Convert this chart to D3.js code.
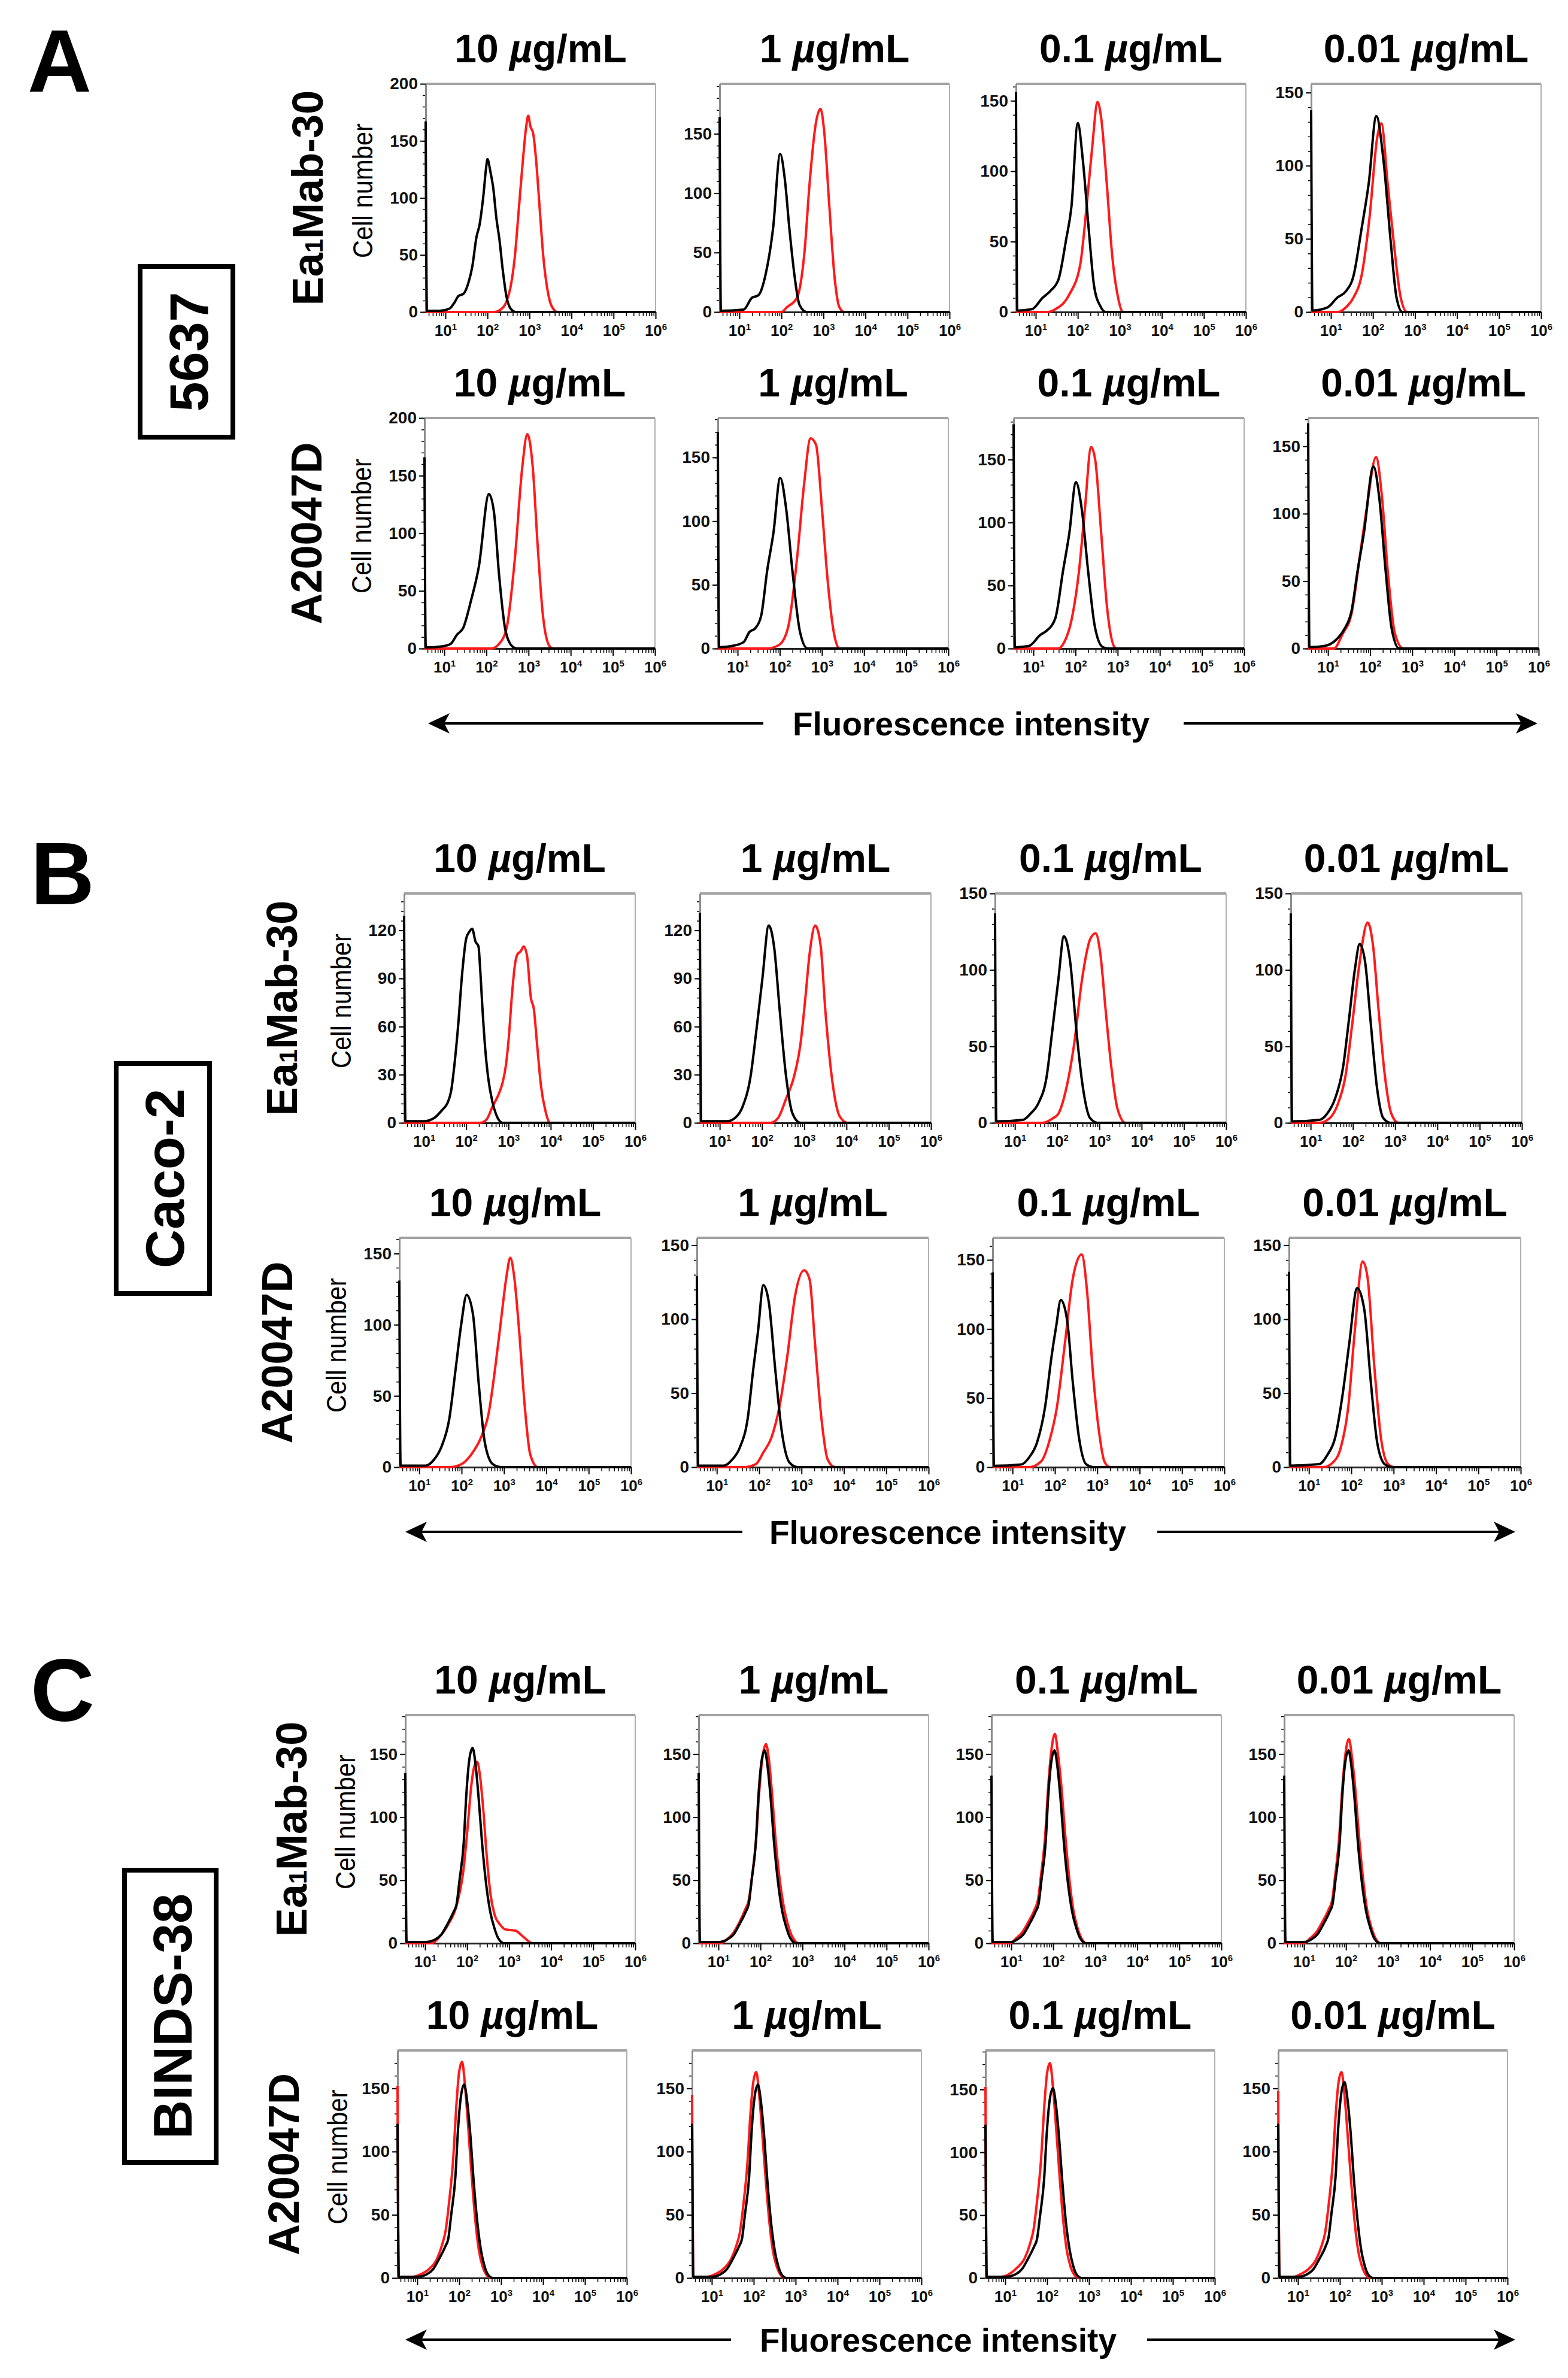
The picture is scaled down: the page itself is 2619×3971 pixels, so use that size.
<!DOCTYPE html>
<html>
<head>
<meta charset="utf-8">
<script src="https://cdn.jsdelivr.net/npm/d3@7"></script>
<style>
  body { margin: 0; background: #fff; }
  svg { display: block; }
  text { font-family: "Liberation Sans", Arial, Helvetica, sans-serif; }
</style>
</head>
<body>
<script>
// ---- labels ----
var panelLetters = ["A", "B", "C"];
var cellLines = ["5637", "Caco-2", "BINDS-38"];
var antibodies = ["Ea₁Mab-30", "A20047D"];
var concentrations = ["10", "1", "0.1", "0.01"];
var xTickExponents = [1, 2, 3, 4, 5, 6];

// ---- y axis max / major step, per panel [row][plot] ----
var yMaxA = [[200, 192, 162, 156], [200, 181, 183, 171]];
var yStepA = [[50, 50, 50, 50], [50, 50, 50, 50]];
var yMaxB = [[143, 143, 150, 150], [161, 155, 166, 155]];
var yStepB = [[30, 30, 50, 50], [50, 50, 50, 50]];
var yMaxC = [[181, 181, 181, 181], [180, 180, 181, 180]];
var yStepC = [[50, 50, 50, 50], [50, 50, 50, 50]];

// ---- histograms: [log10 intensity, cell number] ----
// black = control, red = antibody
var a1Black = [
  [[0.53,167],[0.56,1],[0.86,1],[1.1,3],[1.21,8],[1.31,14],[1.43,16],[1.55,26],[1.64,40],[1.74,66],[1.81,76],[1.9,101],[1.97,127],[2.0,134],[2.07,123],[2.14,108],[2.21,83],[2.29,62],[2.36,38],[2.45,14],[2.55,3],[2.67,0],[6,0]],
  [[0.53,164],[0.56,1],[1.1,2],[1.3,12],[1.45,14],[1.62,31],[1.8,70],[1.97,133],[2.08,112],[2.19,70],[2.31,31],[2.43,6],[2.6,0],[6,0]],
  [[0.53,156],[0.56,1],[0.91,2],[1.16,10],[1.35,15],[1.54,23],[1.72,51],[1.85,75],[2.0,134],[2.12,108],[2.26,59],[2.39,18],[2.54,4],[2.66,0],[6,0]],
  [[0.53,138],[0.56,1],[0.91,3],[1.16,10],[1.35,14],[1.54,25],[1.73,57],[1.9,88],[2.08,134],[2.25,104],[2.42,49],[2.56,10],[2.7,0],[6,0]]
];
var a1Red = [
  [[0.53,0],[2.17,0],[2.31,2],[2.46,10],[2.55,22],[2.65,48],[2.75,92],[2.85,136],[2.92,162],[2.97,172],[3.02,163],[3.09,156],[3.16,132],[3.24,92],[3.33,48],[3.43,19],[3.53,5],[3.67,0],[6,0]],
  [[0.53,0],[2.0,0],[2.13,4],[2.37,12],[2.55,51],[2.67,108],[2.82,159],[2.93,171],[3.02,151],[3.14,89],[3.26,31],[3.38,4],[3.5,0],[6,0]],
  [[0.53,0],[1.29,0],[1.47,2],[1.79,12],[2.06,34],[2.21,75],[2.34,116],[2.47,149],[2.56,137],[2.69,91],[2.81,43],[2.96,10],[3.08,0],[6,0]],
  [[0.53,0],[1.16,0],[1.35,3],[1.54,10],[1.73,25],[1.92,65],[2.1,119],[2.2,129],[2.35,88],[2.49,49],[2.66,10],[2.81,0],[6,0]]
];
var a2Black = [
  [[0.53,166],[0.56,1],[0.96,2],[1.15,4],[1.3,12],[1.45,18],[1.63,41],[1.82,71],[2.06,134],[2.18,118],[2.3,64],[2.45,16],[2.61,2],[2.73,0],[6,0]],
  [[0.53,170],[0.56,1],[0.86,2],[1.14,5],[1.28,13],[1.42,16],[1.56,26],[1.7,61],[1.85,91],[2.01,134],[2.15,110],[2.3,61],[2.48,13],[2.66,0],[6,0]],
  [[0.53,178],[0.56,1],[0.89,2],[1.17,11],[1.31,14],[1.52,24],[1.7,61],[1.85,91],[2.01,132],[2.15,110],[2.3,61],[2.46,17],[2.65,1],[2.79,0],[6,0]],
  [[0.53,167],[0.56,1],[0.93,2],[1.21,7],[1.38,14],[1.56,28],[1.7,57],[1.85,85],[2.08,135],[2.22,111],[2.37,57],[2.51,15],[2.69,0],[6,0]]
];
var a2Red = [
  [[0.53,0],[2.12,0],[2.3,4],[2.48,18],[2.67,76],[2.85,157],[2.97,186],[3.1,157],[3.22,87],[3.34,29],[3.5,2],[3.59,0],[6,0]],
  [[0.53,0],[1.7,0],[1.99,3],[2.2,17],[2.41,71],[2.58,130],[2.73,165],[2.86,160],[3.0,110],[3.14,52],[3.28,13],[3.42,0],[6,0]],
  [[0.53,0],[1.59,0],[1.73,5],[1.9,22],[2.08,61],[2.22,110],[2.37,160],[2.47,149],[2.61,91],[2.75,32],[2.93,1],[3.0,0],[6,0]],
  [[0.53,0],[1.14,0],[1.35,11],[1.56,26],[1.75,67],[1.92,104],[2.14,142],[2.28,113],[2.42,57],[2.59,11],[2.79,0],[6,0]]
];
var b1Black = [
  [[0.53,129],[0.56,1],[1.0,1],[1.24,3],[1.43,8],[1.55,12],[1.65,21],[1.72,36],[1.81,61],[1.9,92],[2.0,115],[2.07,119],[2.14,121],[2.22,113],[2.29,110],[2.33,96],[2.38,73],[2.45,46],[2.52,28],[2.62,13],[2.71,5],[2.86,0],[6,0]],
  [[0.53,131],[0.56,1],[1.17,1],[1.36,3],[1.54,10],[1.73,29],[1.86,56],[2.01,90],[2.16,123],[2.29,109],[2.42,70],[2.57,29],[2.72,6],[2.91,0],[6,0]],
  [[0.53,137],[0.56,1],[1.19,2],[1.37,6],[1.56,13],[1.75,30],[1.88,59],[2.03,94],[2.16,122],[2.31,105],[2.46,59],[2.61,23],[2.78,3],[2.96,0],[6,0]],
  [[0.53,137],[0.56,1],[1.21,2],[1.39,6],[1.58,16],[1.77,37],[1.9,66],[2.05,101],[2.16,117],[2.29,105],[2.42,66],[2.57,23],[2.72,3],[2.89,0],[6,0]]
];
var b1Red = [
  [[0.53,0],[2.33,0],[2.48,2],[2.62,10],[2.77,18],[2.86,25],[2.94,36],[3.01,54],[3.08,79],[3.15,98],[3.21,105],[3.29,107],[3.36,110],[3.44,104],[3.53,78],[3.6,71],[3.68,48],[3.77,23],[3.87,8],[3.99,0],[6,0]],
  [[0.53,0],[2.2,0],[2.38,3],[2.57,15],[2.76,29],[2.91,49],[3.02,76],[3.13,106],[3.26,123],[3.39,110],[3.5,70],[3.65,29],[3.84,4],[4.03,0],[6,0]],
  [[0.53,0],[1.65,0],[1.9,3],[2.03,6],[2.22,23],[2.4,51],[2.59,94],[2.78,120],[2.91,124],[3.02,111],[3.15,73],[3.28,37],[3.43,9],[3.62,0],[6,0]],
  [[0.53,0],[1.21,0],[1.45,3],[1.64,12],[1.82,30],[1.99,66],[2.14,101],[2.35,131],[2.48,115],[2.61,73],[2.76,30],[2.91,6],[3.08,0],[6,0]]
];
var b2Black = [
  [[0.53,131],[0.56,1],[1.15,1],[1.34,5],[1.52,14],[1.71,34],[1.86,69],[1.99,100],[2.12,121],[2.27,107],[2.4,60],[2.55,17],[2.74,2],[2.93,0],[6,0]],
  [[0.53,129],[0.56,1],[1.17,1],[1.36,5],[1.54,13],[1.73,33],[1.86,66],[1.97,91],[2.1,123],[2.23,111],[2.38,66],[2.53,25],[2.72,3],[2.91,0],[6,0]],
  [[0.53,141],[0.56,1],[1.21,2],[1.39,7],[1.58,18],[1.77,44],[1.92,80],[2.03,102],[2.14,121],[2.29,106],[2.42,62],[2.57,21],[2.74,2],[2.93,0],[6,0]],
  [[0.53,132],[0.56,1],[1.24,2],[1.43,8],[1.62,20],[1.8,50],[1.95,83],[2.14,121],[2.31,106],[2.46,58],[2.61,17],[2.79,2],[2.98,0],[6,0]]
];
var b2Red = [
  [[0.53,0],[1.71,0],[1.99,2],[2.23,9],[2.46,21],[2.64,38],[2.79,69],[2.93,103],[3.06,134],[3.15,147],[3.24,134],[3.36,95],[3.49,43],[3.62,9],[3.8,0],[6,0]],
  [[0.53,0],[1.64,0],[1.92,2],[2.1,10],[2.29,20],[2.48,41],[2.66,74],[2.85,116],[3.06,133],[3.19,127],[3.32,83],[3.47,33],[3.62,5],[3.79,0],[6,0]],
  [[0.53,0],[1.39,0],[1.67,4],[1.86,18],[2.05,44],[2.23,88],[2.42,136],[2.63,154],[2.76,127],[2.89,71],[3.04,26],[3.17,4],[3.3,0],[6,0]],
  [[0.53,0],[1.34,0],[1.56,3],[1.75,13],[1.93,41],[2.08,91],[2.27,139],[2.38,129],[2.55,66],[2.7,20],[2.87,2],[3.02,0],[6,0]]
];
var c1Black = [
  [[0.53,135],[0.56,1],[1.0,1],[1.24,3],[1.39,7],[1.53,15],[1.68,25],[1.75,31],[1.82,50],[1.92,80],[1.98,117],[2.05,145],[2.13,155],[2.2,142],[2.27,117],[2.36,78],[2.46,45],[2.55,25],[2.65,12],[2.74,4],[2.88,0],[6,0]],
  [[0.53,135],[0.56,1],[1.0,1],[1.21,3],[1.36,7],[1.5,15],[1.65,25],[1.72,31],[1.79,50],[1.89,80],[1.95,116],[2.02,143],[2.1,153],[2.17,140],[2.24,116],[2.33,77],[2.43,45],[2.52,25],[2.62,12],[2.71,4],[2.85,0],[6,0]],
  [[0.53,133],[0.56,1],[1.0,1],[1.14,3],[1.29,7],[1.43,15],[1.58,25],[1.65,31],[1.72,50],[1.82,80],[1.88,116],[1.95,143],[2.03,153],[2.1,140],[2.17,116],[2.26,77],[2.36,45],[2.45,25],[2.55,12],[2.64,4],[2.78,0],[6,0]],
  [[0.53,133],[0.56,1],[1.0,1],[1.17,3],[1.32,7],[1.46,15],[1.61,25],[1.68,31],[1.75,50],[1.85,80],[1.91,116],[1.98,143],[2.06,153],[2.13,140],[2.2,116],[2.29,77],[2.39,45],[2.48,25],[2.58,12],[2.67,4],[2.81,0],[6,0]]
];
var c1Red = [
  [[0.53,0],[1.15,0],[1.34,5],[1.55,15],[1.75,30],[1.92,60],[2.02,95],[2.1,125],[2.17,140],[2.24,144],[2.31,132],[2.38,108],[2.47,68],[2.56,38],[2.66,22],[2.78,15],[2.91,11],[3.15,10],[3.34,5],[3.56,0],[6,0]],
  [[0.53,0],[1.05,0],[1.2,3],[1.35,8],[1.49,16],[1.64,27],[1.72,34],[1.8,53],[1.9,84],[1.97,120],[2.05,148],[2.13,158],[2.2,146],[2.27,121],[2.36,82],[2.46,50],[2.56,28],[2.66,14],[2.76,5],[2.92,0],[6,0]],
  [[0.53,0],[0.98,0],[1.12,4],[1.27,9],[1.41,17],[1.56,27],[1.64,35],[1.71,54],[1.81,86],[1.88,124],[1.96,154],[2.04,166],[2.11,151],[2.19,126],[2.28,88],[2.38,52],[2.47,28],[2.57,13],[2.67,4],[2.8,0],[6,0]],
  [[0.53,0],[1.0,0],[1.15,4],[1.3,9],[1.44,17],[1.59,27],[1.67,34],[1.74,53],[1.84,85],[1.91,122],[1.99,151],[2.07,162],[2.14,148],[2.22,123],[2.31,85],[2.41,50],[2.5,27],[2.6,13],[2.7,4],[2.83,0],[6,0]]
];
var c2Black = [
  [[0.53,122],[0.56,1],[1.0,1],[1.23,3],[1.38,7],[1.52,15],[1.67,25],[1.74,31],[1.81,50],[1.91,80],[1.97,116],[2.04,143],[2.12,153],[2.19,140],[2.26,116],[2.35,75],[2.44,42],[2.52,22],[2.6,10],[2.68,3],[2.8,0],[6,0]],
  [[0.53,122],[0.56,1],[1.0,1],[1.21,3],[1.36,7],[1.5,15],[1.65,25],[1.72,31],[1.79,50],[1.89,80],[1.95,116],[2.02,143],[2.1,153],[2.17,140],[2.24,116],[2.33,75],[2.42,42],[2.5,22],[2.58,10],[2.66,3],[2.78,0],[6,0]],
  [[0.53,122],[0.56,1],[1.0,1],[1.25,3],[1.4,7],[1.54,15],[1.69,25],[1.76,31],[1.83,49],[1.93,79],[1.99,114],[2.06,141],[2.14,151],[2.21,138],[2.28,114],[2.37,74],[2.46,41],[2.54,22],[2.62,10],[2.7,3],[2.82,0],[6,0]],
  [[0.53,122],[0.56,1],[1.0,1],[1.22,3],[1.37,7],[1.51,15],[1.66,25],[1.73,32],[1.8,51],[1.9,81],[1.96,118],[2.03,145],[2.11,155],[2.18,142],[2.25,118],[2.34,76],[2.43,43],[2.51,22],[2.59,10],[2.67,3],[2.79,0],[6,0]]
];
var c2Red = [
  [[0.53,152],[0.56,1],[0.9,1],[1.09,3],[1.28,7],[1.47,15],[1.6,27],[1.68,38],[1.76,60],[1.86,95],[1.93,135],[2.0,163],[2.07,171],[2.14,152],[2.21,122],[2.3,80],[2.39,44],[2.47,22],[2.56,9],[2.64,3],[2.76,0],[6,0]],
  [[0.53,145],[0.56,1],[0.9,1],[1.08,3],[1.27,7],[1.46,15],[1.59,26],[1.67,36],[1.75,57],[1.85,91],[1.92,129],[1.99,155],[2.06,163],[2.13,145],[2.2,116],[2.29,76],[2.38,42],[2.46,21],[2.55,9],[2.63,3],[2.75,0],[6,0]],
  [[0.53,152],[0.56,1],[0.9,1],[1.09,3],[1.28,8],[1.47,16],[1.6,28],[1.68,39],[1.76,61],[1.86,96],[1.93,135],[2.0,163],[2.07,171],[2.14,152],[2.21,122],[2.3,80],[2.39,44],[2.47,22],[2.56,9],[2.64,3],[2.76,0],[6,0]],
  [[0.53,148],[0.56,1],[0.9,1],[1.06,3],[1.25,7],[1.44,15],[1.57,26],[1.65,36],[1.73,57],[1.83,91],[1.9,129],[1.97,155],[2.04,163],[2.11,145],[2.18,116],[2.27,76],[2.36,42],[2.44,21],[2.53,9],[2.61,3],[2.73,0],[6,0]]
];

// ---- page layout (pixels) ----
var W = 2619, H = 3971;
var X_MIN_EXP = 0.53;
var layout = [
  { letter: [46, 153], box: [234, 445, 155, 285], labelDx: 172, cellDx: 89,
    rows: [{ top: 140, bottom: 521, lefts: [711, 1202, 1697, 2190], w: 384 },
           { top: 698, bottom: 1083, lefts: [709, 1199, 1693, 2185], w: 385 }],
    arrow: { y: 1208, x0: 715, x1: 1275, tx: 1622, x2: 1977, x3: 2568 } },
  { letter: [51, 1510], box: [194, 1776, 156, 384], labelDx: 179, cellDx: 89,
    rows: [{ top: 1492, bottom: 1875, lefts: [675, 1169, 1662, 2156], w: 386 },
           { top: 2067, bottom: 2450, lefts: [667, 1164, 1658, 2153], w: 387 }],
    arrow: { y: 2558, x0: 677, x1: 1240, tx: 1583, x2: 1933, x3: 2531 } },
  { letter: [51, 2874], box: [208, 3123, 153, 488], labelDx: 165, cellDx: 84,
    rows: [{ top: 2864, bottom: 3245, lefts: [677, 1167, 1656, 2145], w: 384 },
           { top: 3424, bottom: 3804, lefts: [664, 1156, 1646, 2135], w: 383 }],
    arrow: { y: 3907, x0: 677, x1: 1221, tx: 1567, x2: 1916, x3: 2531 } }
];

var panelData = [
  { yMax: yMaxA, yStep: yStepA, black: [a1Black, a2Black], red: [a1Red, a2Red] },
  { yMax: yMaxB, yStep: yStepB, black: [b1Black, b2Black], red: [b1Red, b2Red] },
  { yMax: yMaxC, yStep: yStepC, black: [c1Black, c2Black], red: [c1Red, c2Red] }
];

var svg = d3.select("body").append("svg")
    .attr("width", W)
    .attr("height", H);

svg.append("rect").attr("width", W).attr("height", H).attr("fill", "#fff");

// minor x ticks: 2..9 x each decade, inside the domain
var xMinor = [];
for (var n = 0; n < 6; n++) {
  for (var k = 2; k <= 9; k++) {
    var v = k * Math.pow(10, n);
    if (v > Math.pow(10, X_MIN_EXP)) xMinor.push(v);
  }
}

function drawPlot(g, left, top, width, bottom, yMax, step, black, red) {
  var x = d3.scaleLog()
      .domain([Math.pow(10, X_MIN_EXP), 1e6])
      .range([left, left + width]);
  var y = d3.scaleLinear()
      .domain([0, yMax])
      .range([bottom, top]);

  // frame (grey top / right)
  g.append("line")
      .attr("x1", left).attr("x2", left + width)
      .attr("y1", top).attr("y2", top)
      .attr("stroke", "#a3a3a3").attr("stroke-width", 4);
  g.append("line")
      .attr("x1", left + width).attr("x2", left + width)
      .attr("y1", top).attr("y2", bottom)
      .attr("stroke", "#b0b0b0").attr("stroke-width", 2);

  // y axis
  var yMinorAxis = d3.axisLeft(y)
      .tickValues(d3.range(0, yMax, step / 5))
      .tickSize(5).tickFormat("");
  g.append("g").attr("transform", "translate(" + left + ",0)")
      .call(yMinorAxis)
      .call(function(s) { s.select(".domain").remove(); })
      .selectAll("line").attr("stroke", "#000").attr("stroke-width", 1.5);

  var yAxis = d3.axisLeft(y)
      .tickValues(d3.range(0, yMax + 0.01, step))
      .tickSize(9).tickSizeOuter(0).tickPadding(4);
  var ya = g.append("g").attr("transform", "translate(" + left + ",0)").call(yAxis);
  ya.select(".domain").attr("stroke", "#8c8c8c").attr("stroke-width", 3);
  ya.selectAll(".tick line").attr("stroke", "#000").attr("stroke-width", 2);
  ya.selectAll("text")
      .attr("font-size", 28).attr("font-weight", "bold").attr("fill", "#111")
      .attr("font-family", "'Liberation Sans', Arial, sans-serif");

  // x axis
  var xMinorAxis = d3.axisBottom(x).tickValues(xMinor).tickSize(7).tickFormat("");
  g.append("g").attr("transform", "translate(0," + bottom + ")")
      .call(xMinorAxis)
      .call(function(s) { s.select(".domain").remove(); })
      .selectAll("line").attr("stroke", "#000").attr("stroke-width", 1.5);

  var xAxis = d3.axisBottom(x)
      .tickValues(xTickExponents.map(function(e) { return Math.pow(10, e); }))
      .tickSize(12).tickSizeOuter(0).tickFormat("");
  var xa = g.append("g").attr("transform", "translate(0," + bottom + ")").call(xAxis);
  xa.select(".domain").attr("stroke", "#222").attr("stroke-width", 3);
  xa.selectAll(".tick line").attr("stroke", "#000").attr("stroke-width", 2);
  xa.selectAll(".tick").append("text")
      .attr("y", 40)
      .attr("text-anchor", "middle")
      .attr("font-size", 26).attr("font-weight", "bold").attr("fill", "#111")
      .attr("font-family", "'Liberation Sans', Arial, sans-serif")
      .each(function(d) {
        var t = d3.select(this);
        t.append("tspan").text("10");
        t.append("tspan").attr("font-size", 15).attr("dy", -10)
            .text(Math.round(Math.log10(d)));
      });

  // histograms
  var line = d3.line()
      .x(function(d) { return x(Math.pow(10, d[0])); })
      .y(function(d) { return y(d[1]); })
      .curve(d3.curveMonotoneX);

  g.append("path").datum(red)
      .attr("d", line).attr("fill", "none")
      .attr("stroke", "#ff1a1a").attr("stroke-width", 4)
      .attr("stroke-linejoin", "round");
  g.append("path").datum(black)
      .attr("d", line).attr("fill", "none")
      .attr("stroke", "#000").attr("stroke-width", 4)
      .attr("stroke-linejoin", "round");
}

function antibodyLabel(sel, label) {
  var parts = label.split("₁");
  sel.append("tspan").text(parts[0]);
  if (parts.length > 1) {
    sel.append("tspan").attr("font-size", "0.58em").text("1");
    sel.append("tspan").text(parts[1]);
  }
}

function arrowHead(g, xTip, yy, dir) {
  var p = d3.path();
  p.moveTo(xTip, yy);
  p.lineTo(xTip + dir * 36, yy - 17);
  p.lineTo(xTip + dir * 27, yy);
  p.lineTo(xTip + dir * 36, yy + 17);
  p.closePath();
  g.append("path").attr("d", p.toString()).attr("fill", "#000");
}

layout.forEach(function(L, pi) {
  var g = svg.append("g");
  var P = panelData[pi];

  // panel letter
  g.append("text")
      .attr("x", L.letter[0]).attr("y", L.letter[1])
      .attr("font-size", 148).attr("font-weight", "bold")
      .text(panelLetters[pi]);

  // cell line box
  var b = L.box;
  g.append("rect")
      .attr("x", b[0]).attr("y", b[1]).attr("width", b[2]).attr("height", b[3])
      .attr("fill", "none").attr("stroke", "#000").attr("stroke-width", 8);
  g.append("text")
      .attr("transform", "translate(" + (b[0] + b[2] / 2 + 4) + "," + (b[1] + b[3] / 2) + ") rotate(-90)")
      .attr("text-anchor", "middle").attr("dominant-baseline", "central")
      .attr("font-size", 90).attr("font-weight", "bold")
      .text(cellLines[pi]);

  L.rows.forEach(function(R, ri) {
    var cy = (R.top + R.bottom) / 2;
    // antibody label
    var lab = g.append("text")
        .attr("transform", "translate(" + (R.lefts[0] - L.labelDx) + "," + cy + ") rotate(-90)")
        .attr("text-anchor", "middle")
        .attr("font-size", 72).attr("font-weight", "bold");
    antibodyLabel(lab, antibodies[ri]);

    // y axis title
    g.append("text")
        .attr("transform", "translate(" + (R.lefts[0] - L.cellDx) + "," + (cy - 12) + ") rotate(-90)")
        .attr("text-anchor", "middle")
        .attr("font-size", 46)
        .attr("textLength", 225).attr("lengthAdjust", "spacingAndGlyphs")
        .text("Cell number");

    R.lefts.forEach(function(left, ci) {
      // concentration title
      var t = g.append("text")
          .attr("x", left + R.w / 2).attr("y", R.top - 36)
          .attr("text-anchor", "middle")
          .attr("font-size", 66).attr("font-weight", "bold");
      t.append("tspan").text(concentrations[ci] + " ");
      t.append("tspan").attr("font-style", "italic").text("µ");
      t.append("tspan").text("g/mL");

      drawPlot(g.append("g"), left, R.top, R.w, R.bottom,
               P.yMax[ri][ci], P.yStep[ri][ci],
               P.black[ri][ci], P.red[ri][ci]);
    });
  });

  // fluorescence intensity arrow
  var A = L.arrow;
  g.append("line").attr("x1", A.x0 + 20).attr("x2", A.x1)
      .attr("y1", A.y).attr("y2", A.y)
      .attr("stroke", "#000").attr("stroke-width", 4);
  g.append("line").attr("x1", A.x2).attr("x2", A.x3 - 20)
      .attr("y1", A.y).attr("y2", A.y)
      .attr("stroke", "#000").attr("stroke-width", 4);
  arrowHead(g, A.x0, A.y, 1);
  arrowHead(g, A.x3, A.y, -1);
  g.append("text")
      .attr("x", A.tx).attr("y", A.y + 20)
      .attr("text-anchor", "middle")
      .attr("font-size", 55).attr("font-weight", "bold")
      .text("Fluorescence intensity");
});
</script>
</body>
</html>
